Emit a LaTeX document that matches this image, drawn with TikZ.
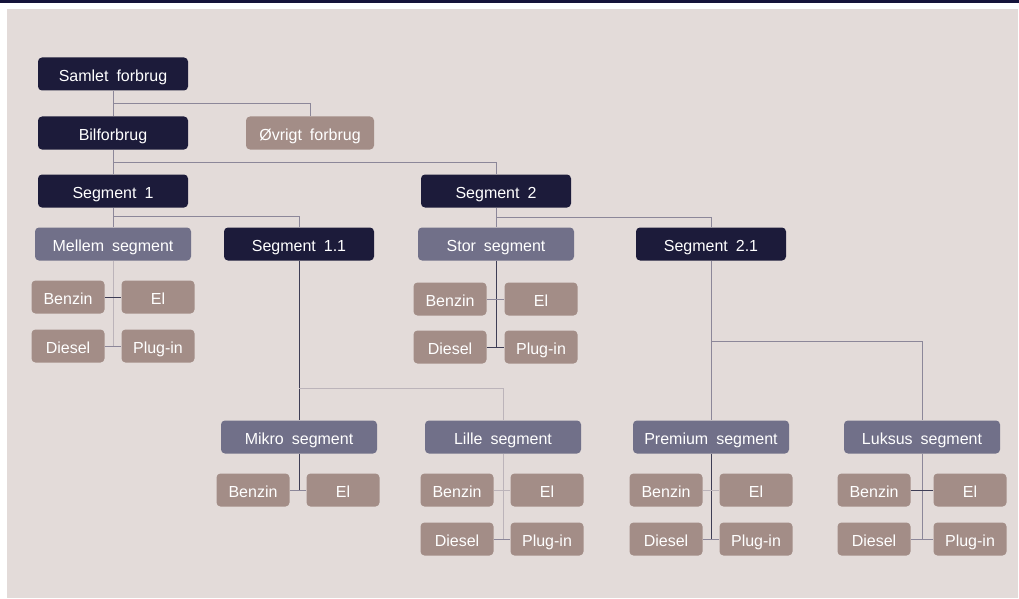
\documentclass[tikz,border=0pt]{standalone}
\usepackage{fontspec}
\setmainfont{Liberation Sans}[WordSpace=1.8]
\definecolor{navy}{HTML}{1C1B3A}
\definecolor{topbar}{HTML}{15133A}
\definecolor{slate}{HTML}{717089}
\definecolor{taupe}{HTML}{A38D87}
\definecolor{panel}{HTML}{E3DBD9}
\definecolor{lnA}{HTML}{8C8799}
\definecolor{lnD}{HTML}{3E3D55}
\definecolor{lnL}{HTML}{BCB4BA}
\begin{document}
\begin{tikzpicture}[x=1pt,y=-1pt,
  box/.style={rounded corners=4pt, inner sep=0pt, text=white,
    font=\fontsize{16}{19}\selectfont, minimum height=33pt,
    text height=15pt, text depth=0.5pt},
  lvl/.style={box, fill=navy, minimum width=150pt},
  seg/.style={box, fill=slate, minimum width=156pt},
  leaf/.style={box, fill=taupe, minimum width=73pt},
  other/.style={box, fill=taupe, minimum width=128pt},
  ln/.style={draw=lnA, line width=0.8pt},
  lnd/.style={draw=lnD, line width=0.8pt},
  lnl/.style={draw=lnL, line width=0.8pt}]
\useasboundingbox (0,0) rectangle (1019,599);
\fill[white] (0,0) rectangle (1019,599);
\fill[topbar] (0,0) rectangle (1019,3);
\fill[panel] (7,9) rectangle (1018,598);

% level nodes
\node[lvl] (samlet) at (113,74) {Samlet forbrug};
\node[lvl] (bil) at (113,133) {Bilforbrug};
\node[other] (ovr) at (310,133) {Øvrigt forbrug};
\node[lvl] (s1) at (113,191) {Segment 1};
\node[lvl] (s2) at (496,191) {Segment 2};
\node[seg] (mellem) at (113,244) {Mellem segment};
\node[lvl] (s11) at (299,244) {Segment 1.1};
\node[seg] (stor) at (496,244) {Stor segment};
\node[lvl] (s21) at (711,244) {Segment 2.1};
\node[seg] (mikro) at (299,437) {Mikro segment};
\node[seg] (lille) at (503,437) {Lille segment};
\node[seg] (prem) at (711,437) {Premium segment};
\node[seg] (luks) at (922,437) {Luksus segment};

% leaves: Mellem
\node[leaf] (mB) at (68,297) {Benzin};
\node[leaf] (mE) at (158,297) {El};
\node[leaf] (mD) at (68,346) {Diesel};
\node[leaf] (mP) at (158,346) {Plug-in};
% leaves: Stor
\node[leaf] (sB) at (450,299) {Benzin};
\node[leaf] (sE) at (541,299) {El};
\node[leaf] (sD) at (450,347) {Diesel};
\node[leaf] (sP) at (541,347) {Plug-in};
% leaves: Mikro
\node[leaf] (kB) at (253,490) {Benzin};
\node[leaf] (kE) at (343,490) {El};
% leaves: Lille
\node[leaf] (lB) at (457,490) {Benzin};
\node[leaf] (lE) at (547,490) {El};
\node[leaf] (lD) at (457,539) {Diesel};
\node[leaf] (lP) at (547,539) {Plug-in};
% leaves: Premium
\node[leaf] (pB) at (666,490) {Benzin};
\node[leaf] (pE) at (756,490) {El};
\node[leaf] (pD) at (666,539) {Diesel};
\node[leaf] (pP) at (756,539) {Plug-in};
% leaves: Luksus
\node[leaf] (xB) at (874,490) {Benzin};
\node[leaf] (xE) at (970,490) {El};
\node[leaf] (xD) at (874,539) {Diesel};
\node[leaf] (xP) at (970,539) {Plug-in};

% connectors
\draw[ln] (samlet.south) -- (bil.north);
\draw[ln] (samlet.south) ++(0,13) -| (ovr.north);
\draw[ln] (bil.south) -- (s1.north);
\draw[ln] (bil.south) ++(0,13) -| (s2.north);
\draw[ln] (s1.south) -- (mellem.north);
\draw[ln] (s1.south) ++(0,9) -| (s11.north);
\draw[ln] (s2.south) -- (stor.north);
\draw[ln] (s2.south) ++(0,10) -| (s21.north);

\draw[lnl] (mellem.south) -- (mellem.south |- mD.east);
\draw[lnd] (mB.east) -- (mE.west);
\draw[ln] (mD.east) -- (mP.west);

\draw[lnd] (stor.south) -- (stor.south |- sD.east);
\draw[ln] (sB.east) -- (sE.west);
\draw[lnd] (sD.east) -- (sP.west);

\draw[lnd] (s11.south) -- (mikro.north);
\draw[lnl] (s11.south) ++(0,128) -| (lille.north);
\draw[lnd] (mikro.south) -- (mikro.south |- kB.east);
\draw[ln] (kB.east) -- (kE.west);

\draw[lnl] (lille.south) -- (lille.south |- lD.east);
\draw[lnl] (lB.east) -- (lE.west);
\draw[ln] (lD.east) -- (lP.west);

\draw[ln] (s21.south) -- (prem.north);
\draw[ln] (s21.south) ++(0,81) -| (luks.north);
\draw[lnd] (prem.south) -- (prem.south |- pD.east);
\draw[lnl] (pB.east) -- (pE.west);
\draw[ln] (pD.east) -- (pP.west);

\draw[ln] (luks.south) -- (luks.south |- xD.east);
\draw[lnd] (xB.east) -- (xE.west);
\draw[ln] (xD.east) -- (xP.west);
\end{tikzpicture}
\end{document}
